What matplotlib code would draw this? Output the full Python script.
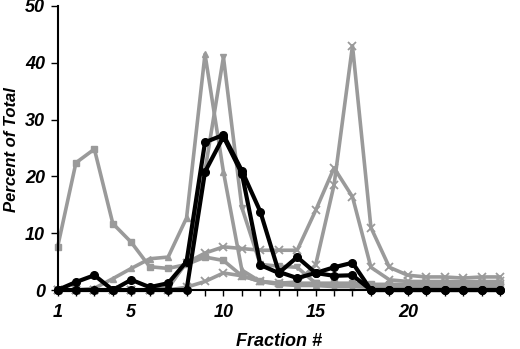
import matplotlib
matplotlib.use("Agg")
import matplotlib.pyplot as plt

fractions = list(range(1, 26))

# gray series
sq_vals = [7.5, 22.4, 24.8, 11.7, 8.4, 4.1, 3.8, 4.5, 5.8, 5.2, 2.5, 1.5, 1.2, 1.2, 1.2, 1.2, 1.2, 1.0, 1.0, 1.0, 1.0, 1.0, 1.0, 1.0, 1.0]
tri_up_vals = [0, 0, 0.3, 2.0, 3.8, 5.5, 5.8, 12.7, 41.5, 20.8, 3.5, 1.5, 1.0, 0.8, 0.8, 0.6, 0.6, 0.5, 0.5, 0.5, 0.5, 0.5, 0.5, 0.5, 0.5]
tri_dn_vals = [0, 0, 0, 0, 0, 0, 0.3, 5.0, 21.0, 41.0, 14.5, 4.5, 4.2, 4.0, 1.2, 0.8, 0.8, 0.6, 0.6, 0.6, 0.6, 0.6, 0.6, 0.6, 0.6]
x_hi_vals = [0, 0, 0, 0, 0, 0, 0, 0.5, 1.5, 3.0, 2.5, 1.5, 1.2, 1.4, 4.4, 18.5, 43.0, 11.0, 4.0, 2.6, 2.3, 2.3, 2.1, 2.3, 2.3]
x_mid_vals = [0, 0, 0, 0, 0, 0, 0.5, 4.8, 6.5, 7.6, 7.3, 7.0, 7.0, 7.0, 14.0, 21.5, 16.4, 4.0, 1.8, 1.5, 1.5, 1.5, 1.5, 1.5, 1.5]

# black series
blk1_vals = [0, 1.4, 2.6, 0, 1.8, 0.5, 1.2, 5.0, 26.0, 27.3, 21.0, 13.8, 3.2, 2.1, 3.0, 2.5, 2.6, 0, 0, 0, 0, 0, 0, 0, 0]
blk2_vals = [0, 0, 0, 0, 0, 0, 0, 0, 20.8, 27.0, 20.5, 4.4, 3.0, 5.8, 3.0, 4.0, 4.8, 0, 0, 0, 0, 0, 0, 0, 0]

y_ticks = [0, 10, 20, 30, 40, 50]
x_tick_labels = [1, 5, 10, 15, 20]

plt.rcParams['font.family'] = ['Liberation Sans', 'DejaVu Sans']

fig = plt.figure(figsize=(5.2, 3.49), dpi=100)
ax = fig.add_axes([0.1106, 0.169, 0.8509, 0.814])

gray = '#9a9a9a'
glw = 2.6
ax.plot(fractions, sq_vals, color=gray, lw=glw, marker='s', ms=4.5, mfc=gray, mec=gray, clip_on=False)
ax.plot(fractions, tri_up_vals, color=gray, lw=glw, marker='^', ms=4.5, mfc=gray, mec=gray, clip_on=False)
ax.plot(fractions, tri_dn_vals, color=gray, lw=glw, marker='v', ms=4.5, mfc=gray, mec=gray, clip_on=False)
ax.plot(fractions, x_hi_vals, color=gray, lw=glw, marker='x', ms=5.5, mew=1.3, mec=gray, clip_on=False)
ax.plot(fractions, x_mid_vals, color=gray, lw=glw, marker='x', ms=5.5, mew=1.3, mec=gray, clip_on=False)

ax.plot(fractions, blk2_vals, color='black', lw=3.0, marker='o', ms=5.5, mfc='black', mec='black', clip_on=False, zorder=5)
ax.plot(fractions, blk1_vals, color='black', lw=3.0, marker='o', ms=5.5, mfc='black', mec='black', clip_on=False, zorder=6)

ax.set_xlim(1, 25)
ax.set_ylim(0, 50)
ax.spines['top'].set_visible(False)
ax.spines['right'].set_visible(False)
ax.spines['left'].set_linewidth(1.5)
ax.spines['bottom'].set_linewidth(1.5)

ax.set_yticks(y_ticks)
ax.set_yticklabels([str(v) for v in y_ticks], fontsize=13, fontweight='bold', fontstyle='italic')
ax.set_xticks(fractions)
ax.set_xticklabels([str(f) if f in x_tick_labels else '' for f in fractions],
                   fontsize=13, fontweight='bold', fontstyle='italic')
ax.tick_params(axis='both', direction='out', length=5, width=1, pad=4)
ax.tick_params(axis='x', length=4, pad=6)

ax.set_ylabel('Percent of Total', fontsize=12, fontweight='bold', fontstyle='italic')
ax.yaxis.set_label_coords(-0.088, 0.495)
ax.set_xlabel('Fraction #', fontsize=13, fontweight='bold', fontstyle='italic')
ax.xaxis.set_label_coords(0.5, -0.15)

fig.savefig('out.png', dpi=100)
